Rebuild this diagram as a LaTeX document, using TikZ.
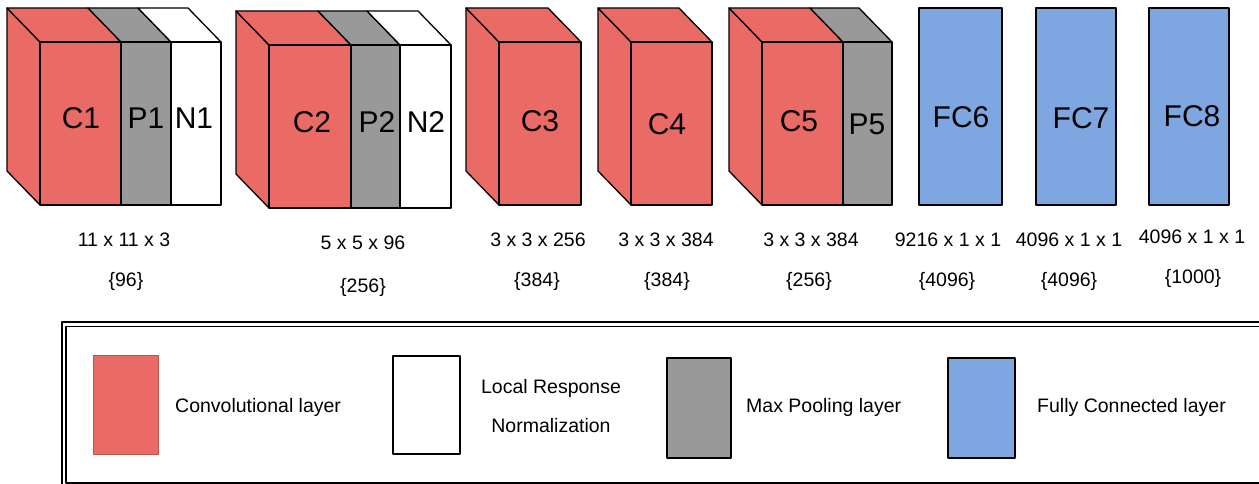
\documentclass[tikz,border=0pt]{standalone}
\usepackage{fontspec}
\setmainfont{Liberation Sans}
\definecolor{convred}{HTML}{EA6B66}
\definecolor{poolgray}{HTML}{999999}
\definecolor{fcblue}{HTML}{7EA6E0}
\definecolor{legred}{HTML}{B85450}
\newcommand\mySide[4]{\filldraw[face, fill=#4] (#1,#2) -- (#1-33,#2-34) -- (#1-33,#3-34) -- (#1,#3) -- cycle;}
\newcommand\mySeg[5]{%
  \filldraw[face, fill=#5] (#1,#3) -- (#1-33,#3-34) -- (#2-33,#3-34) -- (#2,#3) -- cycle;
  \filldraw[face, fill=#5] (#1,#3) rectangle (#2,#4);}
\begin{document}
\begin{tikzpicture}[x=1pt,y=-1pt, line join=round,
  face/.style={draw=black, line width=1.3pt},
  big/.style={font=\fontsize{30}{36}\selectfont, anchor=base, inner sep=0pt},
  dim/.style={font=\fontsize{19.5}{23}\selectfont, anchor=base, inner sep=0pt},
  leg/.style={font=\fontsize{19.5}{23}\selectfont, anchor=base west, inner sep=0pt},
  legc/.style={font=\fontsize{19.5}{23}\selectfont, anchor=base, inner sep=0pt}]
\useasboundingbox (0,0) rectangle (1259,484);

% block 1
\mySide{40}{42}{205}{convred}
\mySeg{40}{121}{42}{205}{convred}
\mySeg{121}{171}{42}{205}{poolgray}
\mySeg{171}{221}{42}{205}{white}
\node[big] (c1) at (81,128.7) {C1};
\node[big] (p1) at (146,128.7) {P1};
\node[big] (n1) at (194,128.7) {N1};

% block 2
\mySide{269}{45}{208}{convred}
\mySeg{269}{351}{45}{208}{convred}
\mySeg{351}{400}{45}{208}{poolgray}
\mySeg{400}{451}{45}{208}{white}
\node[big] (c2) at (312,132.7) {C2};
\node[big] (p2) at (377,132.7) {P2};
\node[big] (n2) at (426,132.7) {N2};

% block 3
\mySide{499}{42}{205}{convred}
\mySeg{499}{581}{42}{205}{convred}
\node[big] (c3) at (540,131.7) {C3};

% block 4
\mySide{631}{42}{205}{convred}
\mySeg{631}{712}{42}{205}{convred}
\node[big] (c4) at (667,134.7) {C4};

% block 5
\mySide{762}{42}{205}{convred}
\mySeg{762}{843}{42}{205}{convred}
\mySeg{843}{892}{42}{205}{poolgray}
\node[big] (c5) at (799,131.7) {C5};
\node[big] (p5) at (867,134.7) {P5};

% fully connected
\filldraw[face, fill=fcblue] (919,8) rectangle (1002,205);
\filldraw[face, fill=fcblue] (1036,8) rectangle (1116,205);
\filldraw[face, fill=fcblue] (1149,8) rectangle (1229,205);
\node[big] (fc6) at (961,127.7) {FC6};
\node[big] (fc7) at (1081,128.7) {FC7};
\node[big] (fc8) at (1192,126.7) {FC8};

% dimensions
\node[dim] (d1) at (124,246) {11 x 11 x 3};
\node[dim] (k1) at (126,286) {\{96\}};
\node[dim] (d2) at (363,249.5) {5 x 5 x 96};
\node[dim] (k2) at (363,292.5) {\{256\}};
\node[dim] (d3) at (538,246) {3 x 3 x 256};
\node[dim] (k3) at (537,286) {\{384\}};
\node[dim] (d4) at (666,246) {3 x 3 x 384};
\node[dim] (k4) at (667,286) {\{384\}};
\node[dim] (d5) at (811,246) {3 x 3 x 384};
\node[dim] (k5) at (809,286) {\{256\}};
\node[dim] (d6) at (948,246) {9216 x 1 x 1};
\node[dim] (k6) at (947,286) {\{4096\}};
\node[dim] (d7) at (1069,246) {4096 x 1 x 1};
\node[dim] (k7) at (1069,286) {\{4096\}};
\node[dim] (d8) at (1192,243) {4096 x 1 x 1};
\node[dim] (k8) at (1193,283) {\{1000\}};

% legend frame
\draw[line width=1.3pt] (62,322) rectangle (1266,489);
\draw[line width=1.3pt] (66,326.5) rectangle (1262,483);

% legend items
\filldraw[line width=1pt, draw=legred, fill=convred] (93,355) rectangle (158,454);
\node[leg] (lconv) at (175,412) {Convolutional layer};
\filldraw[face, fill=white] (393,356) rectangle (460,454);
\node[legc] (llrn1) at (551,393.5) {Local Response};
\node[legc] (llrn2) at (551,432) {Normalization};
\filldraw[face, fill=poolgray] (667,358) rectangle (731,458);
\node[leg] (lpool) at (746,412.5) {Max Pooling layer};
\filldraw[face, fill=fcblue] (948,358) rectangle (1015,458);
\node[leg] (lfc) at (1037,412) {Fully Connected layer};
\end{tikzpicture}
\end{document}
